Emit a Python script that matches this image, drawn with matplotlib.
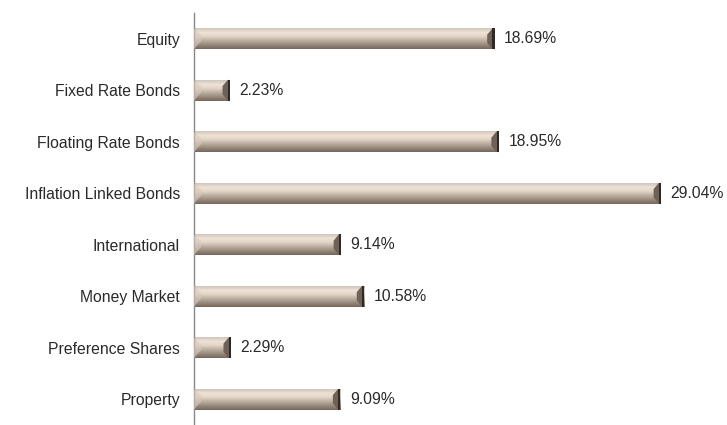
import matplotlib.pyplot as plt
import numpy as np
from matplotlib.colors import LinearSegmentedColormap
from matplotlib.patches import Polygon

categories = ['Equity', 'Fixed Rate Bonds', 'Floating Rate Bonds', 'Inflation Linked Bonds',
              'International', 'Money Market', 'Preference Shares', 'Property']
values = [18.69, 2.23, 18.95, 29.04, 9.14, 10.58, 2.29, 9.09]

plt.rcParams['font.family'] = ['Liberation Sans', 'DejaVu Sans']

# vertical shading of the bars, top -> bottom
BAR_CMAP = LinearSegmentedColormap.from_list('tube', [
    (0.0, '#cfc5bb'), (0.2, '#efe3d6'), (0.38, '#e4d6c8'),
    (0.6, '#bcae9f'), (0.85, '#8f8174'), (1.0, '#75685d')])

fig = plt.figure(figsize=(7.27, 4.25), dpi=100)
ax = fig.add_axes([194 / 727, 0.0, 506 / 727, 412 / 425])

y = np.arange(len(categories))
bars = ax.barh(y, values, height=0.4, color='none', edgecolor='none')

ax.set_xlim(0, 31.47)
ax.set_ylim(len(categories) - 0.5, -0.5)

grad = np.linspace(0, 1, 64).reshape(-1, 1)
cap = 0.38  # end cap width in data units
for b, v in zip(bars, values):
    x0, y0, w, h = b.get_x(), b.get_y(), b.get_width(), b.get_height()
    ax.imshow(grad, cmap=BAR_CMAP, aspect='auto', extent=(x0, x0 + w, y0 + h, y0),
              zorder=2, interpolation='bilinear')
    # left bevel
    ax.add_patch(Polygon([(x0, y0), (x0 + cap * 1.2, y0 + h * 0.35), (x0 + cap * 1.2, y0 + h * 0.6),
                          (x0, y0 + h)], closed=True, facecolor='#d9cabb', alpha=0.6,
                         edgecolor='none', zorder=3))
    # right end cap
    ax.add_patch(Polygon([(w - cap * 1.2, y0 + h * 0.3), (w - cap * 0.35, y0), (w, y0),
                          (w, y0 + h), (w - cap * 0.35, y0 + h), (w - cap * 1.2, y0 + h * 0.7)],
                         closed=True, facecolor='#6e6258', edgecolor='none', zorder=3))
    ax.add_patch(Polygon([(w - cap * 0.35, y0), (w, y0), (w, y0 + h), (w - cap * 0.35, y0 + h)],
                         closed=True, facecolor='#2f2823', edgecolor='none', zorder=4))
    ax.text(w + 0.6, y0 + h / 2, f'{v:.2f}%', va='center', ha='left',
            fontsize=11.3, color='#2a2a2a', clip_on=False)

ax.set_yticks(y)
ax.set_yticklabels(categories, fontsize=11.3, color='#2a2a2a')
ax.tick_params(axis='y', length=0, pad=10)
ax.set_xticks([])
for s in ['top', 'right', 'bottom']:
    ax.spines[s].set_visible(False)
ax.spines['left'].set_color('#888888')
ax.spines['left'].set_linewidth(1.0)

fig.savefig('out.png', dpi=100)
